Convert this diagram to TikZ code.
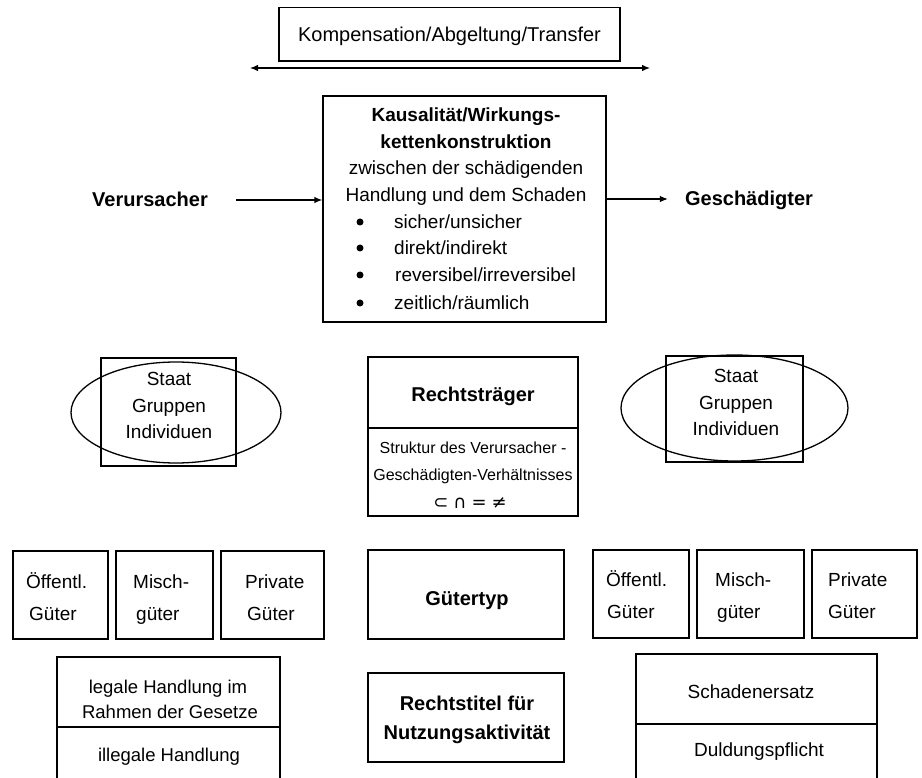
\documentclass[tikz,border=0pt]{standalone}
\usepackage{fontspec}
\setmainfont{Liberation Sans}
\newfontfamily\symfont{DejaVu Sans}
\usetikzlibrary{arrows.meta,shapes.geometric}
\newcommand\myfs[1]{\fontsize{#1}{#1}\selectfont}
\begin{document}
\begin{tikzpicture}[x=1pt,y=-1pt,
  bx/.style={draw=black, line width=1.3pt, inner sep=0pt},
  ln/.style={inner sep=0pt, text depth=0pt, text height=13.3pt, font=\myfs{19}},
  lnk/.style={inner sep=0pt, text depth=0pt, text height=13.3pt, font=\myfs{19}\bfseries},
  lnb/.style={inner sep=0pt, text depth=0pt, text height=14pt, font=\myfs{20}\bfseries},
  lns/.style={inner sep=0pt, text depth=0pt, text height=11.2pt, font=\myfs{16}},
  lnl/.style={inner sep=0pt, text depth=0pt, text height=13pt, font=\myfs{18.5}},
  dot/.style={circle, fill=black, inner sep=0pt, minimum size=7pt},
  arr/.style={line width=1.2pt, -{Latex[length=8pt,width=6.5pt]}},
  darr/.style={line width=1.2pt, {Latex[length=8pt,width=6.5pt]}-{Latex[length=8pt,width=6.5pt]}},
]
\useasboundingbox (0,0) rectangle (922,778);

% top box and double arrow
\node[bx, inner sep=0pt, text depth=0pt, text height=14pt, font=\myfs{20}, minimum width=341pt, minimum height=53.5pt] (komp) at (449.5,34.25) {Kompensation/Abgeltung/Transfer};
\coordinate (dl) at (250,68);
\coordinate (dr) at (650,68);
\draw[darr] (dl) -- (dr);

% central causality box
\node[bx, minimum width=283pt, minimum height=226pt] (kaus) at (464.5,209) {};
\node[lnk] (k1) at (466,115) {Kausalität/Wirkungs-};
\node[lnk] (k2) at (466,142) {kettenkonstruktion};
\node[ln] (k3) at (466,168) {zwischen der schädigenden};
\node[ln] (k4) at (466,195) {Handlung und dem Schaden};
\node[dot] (b1) at (360,222) {};
\node[dot] (b2) at (360,248) {};
\node[dot] (b3) at (360,275) {};
\node[dot] (b4) at (360,303) {};
\node[ln, anchor=west] (i1) at (394,222) {sicher/unsicher};
\node[ln, anchor=west] (i2) at (394,248) {direkt/indirekt};
\node[ln, anchor=west] (i3) at (395,275) {reversibel/irreversibel};
\node[ln, anchor=west] (i4) at (394,303) {zeitlich/räumlich};

% actors
\node[lnb] (verurs) at (150,200) {Verursacher};
\node[lnb] (gesch) at (749,199) {Geschädigter};
\draw[arr, shorten <=28pt] (verurs.east) -- (verurs.east -| kaus.west);
\draw[arr, shorten >=17pt] (kaus.east |- gesch.west) -- (gesch.west);

% left ellipse group
\node[bx, minimum width=135pt, minimum height=108pt] (rectL) at (168.5,412) {};
\node[bx, ellipse, minimum width=210pt, minimum height=101pt] (ellL) at (176,412.5) {};
\node[ln] (sL1) at (169,379) {Staat};
\node[ln] (sL2) at (169,406) {Gruppen};
\node[ln] (sL3) at (169,432) {Individuen};

% right ellipse group
\node[bx, minimum width=137pt, minimum height=106pt] (rectR) at (734.5,409) {};
\node[bx, ellipse, minimum width=227pt, minimum height=106pt] (ellR) at (734.5,408) {};
\node[ln] (sR1) at (736,376) {Staat};
\node[ln] (sR2) at (736,403) {Gruppen};
\node[ln] (sR3) at (736,429) {Individuen};

% Rechtstraeger
\node[bx, minimum width=210pt, minimum height=71pt] (rtop) at (473,392.5) {};
\node[bx, minimum width=210pt, minimum height=88pt] (rbot) at (473,472) {};
\node[lnb] (rt) at (473,395) {Rechtsträger};
\node[lns] (st1) at (473,448) {Struktur des Verursacher -};
\node[lns] (st2) at (473,475) {Geschädigten-Verhältnisses};
\node[inner sep=0pt, text depth=0pt, text height=9pt, font=\myfs{18}\symfont] (st3) at (470,504) {⊂\hspace{5pt}∩\hspace{5pt}=\hspace{5pt}≠};

% goods boxes left
\node[bx, minimum width=95pt, minimum height=88pt] (oefL) at (60.5,595) {};
\node[bx, minimum width=97pt, minimum height=88pt] (misL) at (164.5,595) {};
\node[bx, minimum width=103pt, minimum height=88pt] (privL) at (272.5,595) {};
\node[ln, anchor=west] (oL1) at (26,582) {Öffentl.};
\node[ln, anchor=west] (oL2) at (29,614) {Güter};
\node[ln, anchor=west] (mL1) at (133,582) {Misch-};
\node[ln, anchor=west] (mL2) at (136,614) {güter};
\node[ln, anchor=west] (pL1) at (245,582) {Private};
\node[ln, anchor=west] (pL2) at (247,614) {Güter};

% Guetertyp
\node[bx, minimum width=196pt, minimum height=89pt] (gtyp) at (466,594.5) {};
\node[lnb] (gt) at (467,598) {Gütertyp};

% goods boxes right
\node[bx, minimum width=96pt, minimum height=88pt] (oefR) at (641,594) {};
\node[bx, minimum width=107pt, minimum height=88pt] (misR) at (750.5,594) {};
\node[bx, minimum width=105pt, minimum height=88pt] (privR) at (864.5,594) {};
\node[ln, anchor=west] (oR1) at (606,580) {Öffentl.};
\node[ln, anchor=west] (oR2) at (607,612) {Güter};
\node[ln, anchor=west] (mR1) at (715,580) {Misch-};
\node[ln, anchor=west] (mR2) at (717,612) {güter};
\node[ln, anchor=west] (pR1) at (828,580) {Private};
\node[ln, anchor=west] (pR2) at (828,612) {Güter};

% legal box
\node[bx, minimum width=223pt, minimum height=70pt] (legT) at (168.5,692) {};
\node[bx, minimum width=223pt, minimum height=54pt] (legB) at (168.5,754) {};
\node[lnl] (lg1) at (168,687) {legale Handlung im};
\node[lnl] (lg2) at (170,712) {Rahmen der Gesetze};
\node[lnl] (lg3) at (169,755) {illegale Handlung};

% Rechtstitel
\node[bx, minimum width=196pt, minimum height=89pt] (rtit) at (466,717.5) {};
\node[lnb] (rt1) at (467,703) {Rechtstitel für};
\node[lnb] (rt2) at (467,732) {Nutzungsaktivität};

% Schadenersatz
\node[bx, minimum width=241pt, minimum height=70pt] (schT) at (756.5,689) {};
\node[bx, minimum width=241pt, minimum height=57pt] (schB) at (756.5,752.5) {};
\node[ln] (sc1) at (751,692) {Schadenersatz};
\node[ln] (sc2) at (759,750) {Duldungspflicht};
\end{tikzpicture}
\end{document}
